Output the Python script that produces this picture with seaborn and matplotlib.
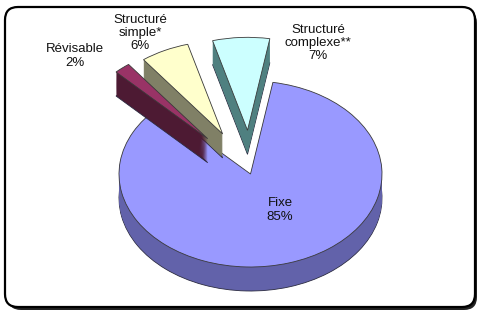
import matplotlib
matplotlib.use("Agg")
import matplotlib.pyplot as plt
from matplotlib.patches import FancyBboxPatch
import seaborn as sns

# ---- data ----
categories = ["Structuré\ncomplexe**", "Structuré\nsimple*", "Révisable", "Fixe"]
shares = [7, 6, 2, 85]
explode = [0.47, 0.48, 0.50, 0.0]
top_colors = ["#CCFFFF", "#FFFFCC", "#993366", "#9999FF"]
side_colors = ["#4F8080", "#808066", "#4D1A33", "#6262AA"]
label_pos = [(318, 43), (140, 33), (75, 56), (280, 210)]

sns.set_theme(style="white")
plt.rcParams["font.family"] = ["Liberation Sans", "DejaVu Sans"]

W, H = 479, 313
fig = plt.figure(figsize=(W / 100, H / 100), dpi=100)
fig.patch.set_facecolor("white")

# background frame
bg = fig.add_axes([0, 0, 1, 1])
bg.set_xlim(0, W)
bg.set_ylim(H, 0)
bg.axis("off")
shadow = FancyBboxPatch((8, 10), 469, 300, boxstyle="round,pad=0,rounding_size=13",
                        facecolor="#222222", edgecolor="none", zorder=0)
frame = FancyBboxPatch((5, 7), 470, 300, boxstyle="round,pad=0,rounding_size=13",
                       facecolor="white", edgecolor="black", linewidth=1.6, zorder=1)
bg.add_patch(shadow)
bg.add_patch(frame)

# pie axes (3D-like tilted pie)
cx, cy, a, b = 250.5, 174.0, 131.5, 93.0
depth = 24 / b
ax = fig.add_axes([0, 0, 1, 1])
ax.patch.set_alpha(0)
n_layers = 26
for k in range(n_layers):
    is_top = k == n_layers - 1
    dy = -depth + depth * k / (n_layers - 1)
    wedges, _ = ax.pie(shares, explode=explode, startangle=80.2, counterclock=True,
                       colors=top_colors if is_top else side_colors,
                       center=(0, dy), radius=1.0,
                       wedgeprops=dict(linewidth=0.6 if (is_top or k == 0) else 0,
                                       edgecolor="#3a3a3a" if is_top else "#2a2a40"))
    for i, w in enumerate(wedges):
        base = 3 if i < 3 else 1
        w.set_zorder(base + (1 if is_top else 0))

ax.set_aspect("auto")
ax.set_xlim(-cx / a, (W - cx) / a)
ax.set_ylim((cy - H) / b, cy / b)
ax.axis("off")

# labels (pixel coordinates of the background axes, drawn above the pie)
for cat, val, (x, y) in zip(categories, shares, label_pos):
    ax.text(x, y, f"{cat}\n{val}%", transform=bg.transData, ha="center", va="center",
            fontsize=9.5, color="#111111", linespacing=1.15, zorder=10)

fig.savefig("out.png", dpi=100)
